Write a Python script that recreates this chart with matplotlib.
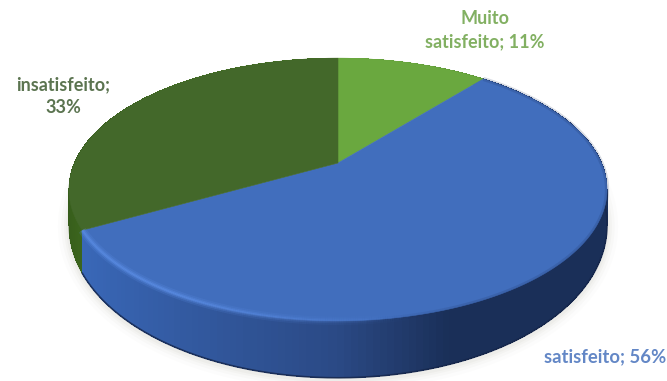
"""Draw a 3D-look pie of satisfaction shares with a perspective top face and side wall."""

import matplotlib.pyplot as plt
import numpy as np
from matplotlib.collections import LineCollection, PolyCollection
from matplotlib.colors import to_rgb

categories = ["Muito\nsatisfeito; 11%", "satisfeito; 56%", "insatisfeito;\n33%"]
shares = [11, 56, 33]
top_colors = ["#6aa83f", "#416ebd", "#43682a"]

plt.rcParams["font.family"] = ["Lato", "DejaVu Sans"]

# perspective disc: apex position, radii and tilt strength, in pixels
CX, CY = 338, 163
RX, RY = 263.5, 126
TILT = 0.2015


def project(theta):
    """Map clockwise-from-top angles on the unit disc to the screen."""
    u, v = np.sin(theta), np.cos(theta)
    d = 1 + TILT * v
    return CX + RX * u / d, CY - RY * v / d, u, v


def wall_depth(v):
    return 30 - 27 * v


def mix(a, b, t):
    a, b = np.array(to_rgb(a)), np.array(to_rgb(b))
    return tuple(a + (b - a) * np.clip(t, 0, 1))


def wall_color(i, u):
    if i == 1:
        if u < 0:
            return mix("#3a69ba", "#2b4a86", (u + 0.9) / 0.9)
        return mix("#2b4a86", "#1a2f58", u / 0.35)
    if i == 2:
        return mix("#355a1b", "#42701f", (u + 1) / 0.25)
    return mix("#6aa83f", "#4d7d2d", u)


edges = np.cumsum([0] + shares) / sum(shares) * 2 * np.pi

fig = plt.figure(figsize=(6.67, 3.81), dpi=100)
ax = fig.add_axes([0, 0, 1, 1])
ax.set_xlim(0, 667)
ax.set_ylim(381, 0)
ax.axis("off")

# soft shadow hugging the lower rim
t = np.linspace(np.pi * 0.45, np.pi * 1.6, 300)
x, y, u, v = project(t)
for width, alpha in [(16, 0.02), (11, 0.03), (7, 0.04), (4, 0.05)]:
    ax.plot(x, y + wall_depth(v) + 1.5, color="#8a8270", lw=width, alpha=alpha,
            solid_capstyle="round", zorder=1)

# side wall, built back to front from small quads
quads, quad_colors, order = [], [], []
for i in range(len(shares)):
    t = np.linspace(edges[i], edges[i + 1], 160)
    x, y, u, v = project(t)
    low = y + wall_depth(v)
    for k in range(len(t) - 1):
        quads.append([(x[k], y[k]), (x[k + 1], y[k + 1]), (x[k + 1], low[k + 1]), (x[k], low[k])])
        quad_colors.append(wall_color(i, u[k]))
        order.append(-v[k])
idx = np.argsort(order)
ax.add_collection(PolyCollection(
    [quads[j] for j in idx],
    facecolors=[quad_colors[j] for j in idx],
    edgecolors="none",
    antialiased=False,
    zorder=2,
))

# dark line along the foot of the wall, also smoothing its lower edge
t = np.linspace(edges[1], edges[2], 300)
x, y, u, v = project(t)
ax.plot(x, y + wall_depth(v), color="#16264a", lw=1.2, alpha=0.8, zorder=3)
t = np.linspace(edges[2], edges[3], 300)
x, y, u, v = project(t)
ax.plot(x, y + wall_depth(v), color="#355a1b", lw=0.8, alpha=0.6, zorder=1.5)

# top face slices
for i in range(len(shares)):
    t = np.linspace(edges[i], edges[i + 1], 240)
    x, y, u, v = project(t)
    ax.fill(np.r_[CX, x], np.r_[CY, y], color=top_colors[i], lw=0.4, zorder=4)

# bevel highlight on the blue rim, fading to the right
t = np.linspace(edges[1], edges[2], 500)
x, y, u, v = project(t)
pts = np.column_stack([x, y])
segs = np.stack([pts[:-1], pts[1:]], axis=1)
fade = np.clip((0.25 - u[:-1]) / 0.75, 0, 1)
for width, strength in [(6, 0.18), (3.5, 0.3), (1.6, 0.45)]:
    colors = [(0.38, 0.58, 0.93, strength * f) for f in fade]
    ax.add_collection(LineCollection(segs, colors=colors, linewidths=width, zorder=5))

# blurred seam where the right part of the rim meets the dark wall
right = u[:-1] > 0.1
colors = [(0.12, 0.2, 0.38, 0.18 * min(1, (a - 0.1) / 0.3)) for a in u[:-1][right]]
ax.add_collection(LineCollection(segs[right], colors=colors, linewidths=3, zorder=5))

# labels
ax.text(485, 30, categories[0], color="#82b062", fontsize=13, fontweight="bold",
        ha="center", va="center", linespacing=1.4, zorder=6)
ax.text(605, 357, categories[1], color="#6387c6", fontsize=13.3, fontweight="bold",
        ha="center", va="center", zorder=6)
ax.text(63, 96, categories[2], color="#5b7450", fontsize=13, fontweight="bold",
        ha="center", va="center", linespacing=1.4, zorder=6)

fig.savefig("out.png", dpi=100)
plt.close(fig)
